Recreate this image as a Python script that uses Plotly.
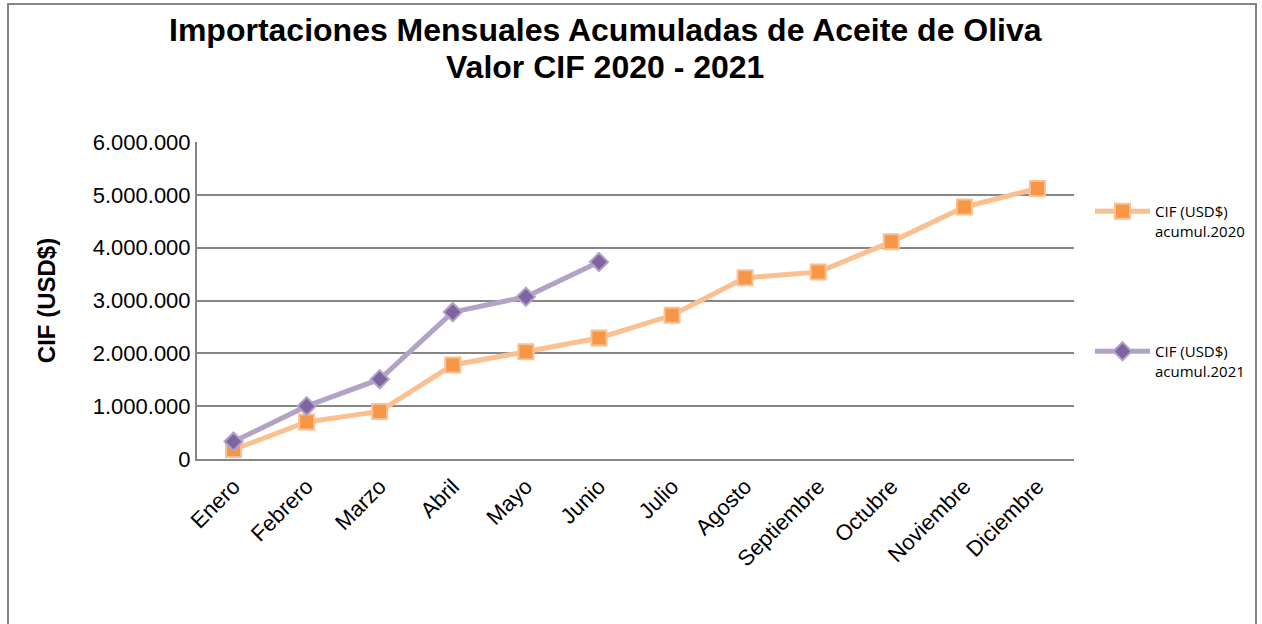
import plotly.graph_objects as go

meses = ["Enero", "Febrero", "Marzo", "Abril", "Mayo", "Junio", "Julio",
         "Agosto", "Septiembre", "Octubre", "Noviembre", "Diciembre"]
cif_2020 = [180000, 700000, 900000, 1780000, 2030000, 2290000, 2720000,
            3430000, 3540000, 4110000, 4770000, 5120000]
meses_2021 = meses[:6]
cif_2021 = [330000, 1000000, 1510000, 2780000, 3070000, 3730000]
titulo = ["Importaciones Mensuales Acumuladas de Aceite de Oliva",
          "Valor CIF 2020 - 2021"]

W, H = 1262, 624
L, R, T, B = 197, 188, 142, 165
pw, ph = W - L - R, H - T - B

fig = go.Figure()

fig.add_trace(go.Scatter(
    x=meses, y=cif_2020, mode="lines+markers",
    name="CIF (USD$)<br>acumul.2020", legend="legend", showlegend=True,
    line=dict(color="#FAC090", width=5),
    marker=dict(symbol="square", size=15, color="#F79646",
                line=dict(color="#FAC090", width=2))))

fig.add_trace(go.Scatter(
    x=meses_2021, y=cif_2021, mode="lines+markers",
    name="CIF (USD$)<br>acumul.2021", legend="legend2", showlegend=True,
    line=dict(color="#B3A2C7", width=5),
    marker=dict(symbol="diamond", size=14, color="#8064A2",
                line=dict(color="#B3A2C7", width=2))))

# outer chart border
fig.add_shape(type="rect", xref="paper", yref="paper",
              x0=(8 - L) / pw, x1=(1256 - L) / pw,
              y0=(H - B - 660) / ph, y1=(H - B - 4) / ph,
              line=dict(color="#868686", width=2), layer="below")

# title, two lines placed separately
for texto, yc in zip(titulo, [30, 67]):
    fig.add_annotation(text="<b>" + texto + "</b>", xref="paper", yref="paper",
                       x=(605 - L) / pw, y=(H - B - yc) / ph,
                       xanchor="center", yanchor="middle", showarrow=False,
                       font=dict(family="Liberation Sans, Arial", size=32, color="#000"))

legend_style = dict(font=dict(family="Open Sans, Liberation Sans", size=15, color="#000"),
                    itemwidth=55, bgcolor="rgba(0,0,0,0)", xanchor="left",
                    yanchor="top", valign="top", x=(1090 - L) / pw)

fig.update_layout(
    width=W, height=H,
    margin=dict(l=L, r=R, t=T, b=B),
    paper_bgcolor="white", plot_bgcolor="white",
    separators=",.",
    showlegend=True,
    legend=dict(y=(H - B - 195) / ph, **legend_style),
    legend2=dict(y=(H - B - 335) / ph, **legend_style),
    font=dict(family="Liberation Sans, Arial", color="#000"),
)

fig.update_xaxes(type="category", showgrid=False, showline=True,
                 linecolor="#868686", linewidth=2, tickangle=-45,
                 tickfont=dict(size=22), ticks="", range=[-0.5, 11.5],
                 ticklabelstandoff=4)
fig.update_yaxes(range=[0, 6000000], dtick=1000000, tickformat=",d",
                 showgrid=True, gridcolor="#868686", gridwidth=2,
                 showline=True, linecolor="#868686", linewidth=2,
                 tickfont=dict(size=22), ticks="", zeroline=False,
                 title=dict(text="<b>CIF (USD$)</b>", font=dict(size=24), standoff=30))

fig.write_html("out.html", config={"displayModeBar": False},
               post_script="document.body.style.margin='0';")
